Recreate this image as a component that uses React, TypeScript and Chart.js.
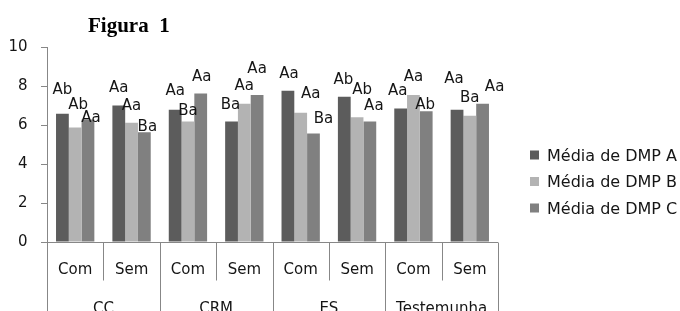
import React, { useEffect, useRef } from "react";
import { Chart, registerables } from "chart.js";

Chart.register(...registerables);

const categories = ["Com", "Sem", "Com", "Sem", "Com", "Sem", "Com", "Sem"];
const groups = ["CC", "CRM", "ES", "Testemunha"];
const seriesNames = ["Média de DMP A", "Média de DMP B", "Média de DMP C"];

const dmpA = [6.58, 7.0, 6.78, 6.18, 7.76, 7.45, 6.85, 6.78];
const dmpB = [5.87, 6.11, 6.18, 7.09, 6.63, 6.4, 7.54, 6.47];
const dmpC = [6.28, 5.63, 7.62, 7.54, 5.56, 6.18, 6.71, 7.09];

const lettersA = ["Ab", "Aa", "Aa", "Ba", "Aa", "Ab", "Aa", "Aa"];
const lettersB = ["Ab", "Aa", "Ba", "Aa", "Aa", "Ab", "Aa", "Ba"];
const lettersC = ["Aa", "Ba", "Aa", "Aa", "Ba", "Aa", "Ab", "Aa"];

// label heights (in axis units) as placed in the original figure
const labelLevelA = [7.85, 7.95, 7.82, 7.12, 8.71, 8.38, 7.8, 8.42];
const labelLevelB = [7.12, 7.06, 6.81, 8.1, 7.65, 7.89, 8.56, 7.44];
const labelLevelC = [6.45, 5.99, 8.56, 8.95, 6.41, 7.05, 7.12, 8.04];
// small horizontal nudges of the labels (px)
const labelNudgeA = [0, 0, 0, -1, 1, -1, -3, -3];
const labelNudgeB = [3, 0, 0, 0, 10, 5, 0, 0];
const labelNudgeC = [3, 3, 1, 0, 10, 4, -1, 12];

const yTicks = [0, 2, 4, 6, 8, 10];

const colors = ["#5c5c5c", "#b3b3b3", "#808080"];
const AXIS = "#878787";
const TEXT = "#151515";
const FONT = "'DejaVu Sans', sans-serif";

export default function App() {
  const ref = useRef<HTMLCanvasElement | null>(null);

  useEffect(() => {
    const canvas = ref.current;
    if (!canvas) return;

    const letters = [lettersA, lettersB, lettersC];
    const levels = [labelLevelA, labelLevelB, labelLevelC];
    const nudges = [labelNudgeA, labelNudgeB, labelNudgeC];

    const overlay = {
      id: "overlay",
      afterDraw(chart: any) {
        const ctx = chart.ctx;
        const area = chart.chartArea;
        const xs = chart.scales.x;
        const ys = chart.scales.y;
        ctx.save();

        // title
        ctx.fillStyle = "#000";
        ctx.font = "bold 21px 'Liberation Serif', serif";
        ctx.textAlign = "left";
        ctx.textBaseline = "alphabetic";
        ctx.fillText("Figura  1", 88, 32);

        // bar labels
        ctx.font = `15px ${FONT}`;
        ctx.fillStyle = TEXT;
        ctx.textAlign = "center";
        for (let d = 0; d < 3; d++) {
          const meta = chart.getDatasetMeta(d);
          meta.data.forEach((bar: any, i: number) => {
            const y = ys.getPixelForValue(levels[d][i]);
            ctx.fillText(letters[d][i], bar.x + nudges[d][i], y + 5.5);
          });
        }

        // x axis line and separators
        ctx.strokeStyle = AXIS;
        ctx.lineWidth = 1;
        const bottom = Math.round(area.bottom) + 0.5;
        ctx.beginPath();
        ctx.moveTo(area.left, bottom);
        ctx.lineTo(area.right, bottom);
        ctx.stroke();
        const n = categories.length;
        const step = (xs.right - xs.left) / n;
        for (let i = 0; i <= n; i++) {
          const x = Math.round(xs.left + i * step) + 0.5;
          const end = i % 2 === 0 ? chart.height : bottom + 38;
          ctx.beginPath();
          ctx.moveTo(x, bottom);
          ctx.lineTo(x, end);
          ctx.stroke();
        }
        ctx.fillStyle = TEXT;
        ctx.font = `15px ${FONT}`;
        ctx.textAlign = "center";
        categories.forEach((c, i) => {
          ctx.fillText(c, xs.getPixelForValue(i), bottom + 31);
        });
        groups.forEach((g, k) => {
          const x = xs.left + (2 * k + 1) * step;
          ctx.fillText(g, x, bottom + 70);
        });

        // legend
        ctx.font = `16px ${FONT}`;
        ctx.textAlign = "left";
        seriesNames.forEach((name, i) => {
          const cy = area.top + 108 + i * 26.5;
          ctx.fillStyle = colors[i];
          ctx.fillRect(area.right + 32, cy - 4.5, 9, 9);
          ctx.fillStyle = TEXT;
          ctx.fillText(name, area.right + 49, cy + 5.5);
        });

        ctx.restore();
      },
    };

    const chart = new Chart(canvas, {
      type: "bar",
      data: {
        labels: categories,
        datasets: [dmpA, dmpB, dmpC].map((vals, i) => ({
          label: seriesNames[i],
          data: vals,
          backgroundColor: colors[i],
          borderWidth: 0,
          categoryPercentage: 0.68,
          barPercentage: 1,
        })),
      },
      options: {
        responsive: false,
        animation: false,
        layout: { padding: { top: 47, right: 182, bottom: 69, left: 0 } },
        plugins: {
          legend: { display: false },
          title: { display: false },
          tooltip: { enabled: false },
        },
        scales: {
          x: { display: false },
          y: {
            min: 0,
            max: 10,
            afterFit: (scale: any) => {
              scale.width = 47;
            },
            afterBuildTicks: (scale: any) => {
              scale.ticks = yTicks.map((v) => ({ value: v }));
            },
            grid: {
              display: true,
              drawOnChartArea: false,
              drawTicks: true,
              tickLength: 6,
              color: AXIS,
            },
            border: { display: true, color: AXIS, width: 1 },
            ticks: {
              padding: 13.5,
              color: TEXT,
              font: { family: "'DejaVu Sans', sans-serif", size: 15 },
            },
          },
        },
      },
      plugins: [overlay],
    });

    return () => chart.destroy();
  }, []);

  return (
    <div style={{ position: "absolute", left: 0, top: 0, width: 680, height: 311, background: "#fff" }}>
      <canvas ref={ref} width={680} height={311} style={{ display: "block" }} />
    </div>
  );
}
